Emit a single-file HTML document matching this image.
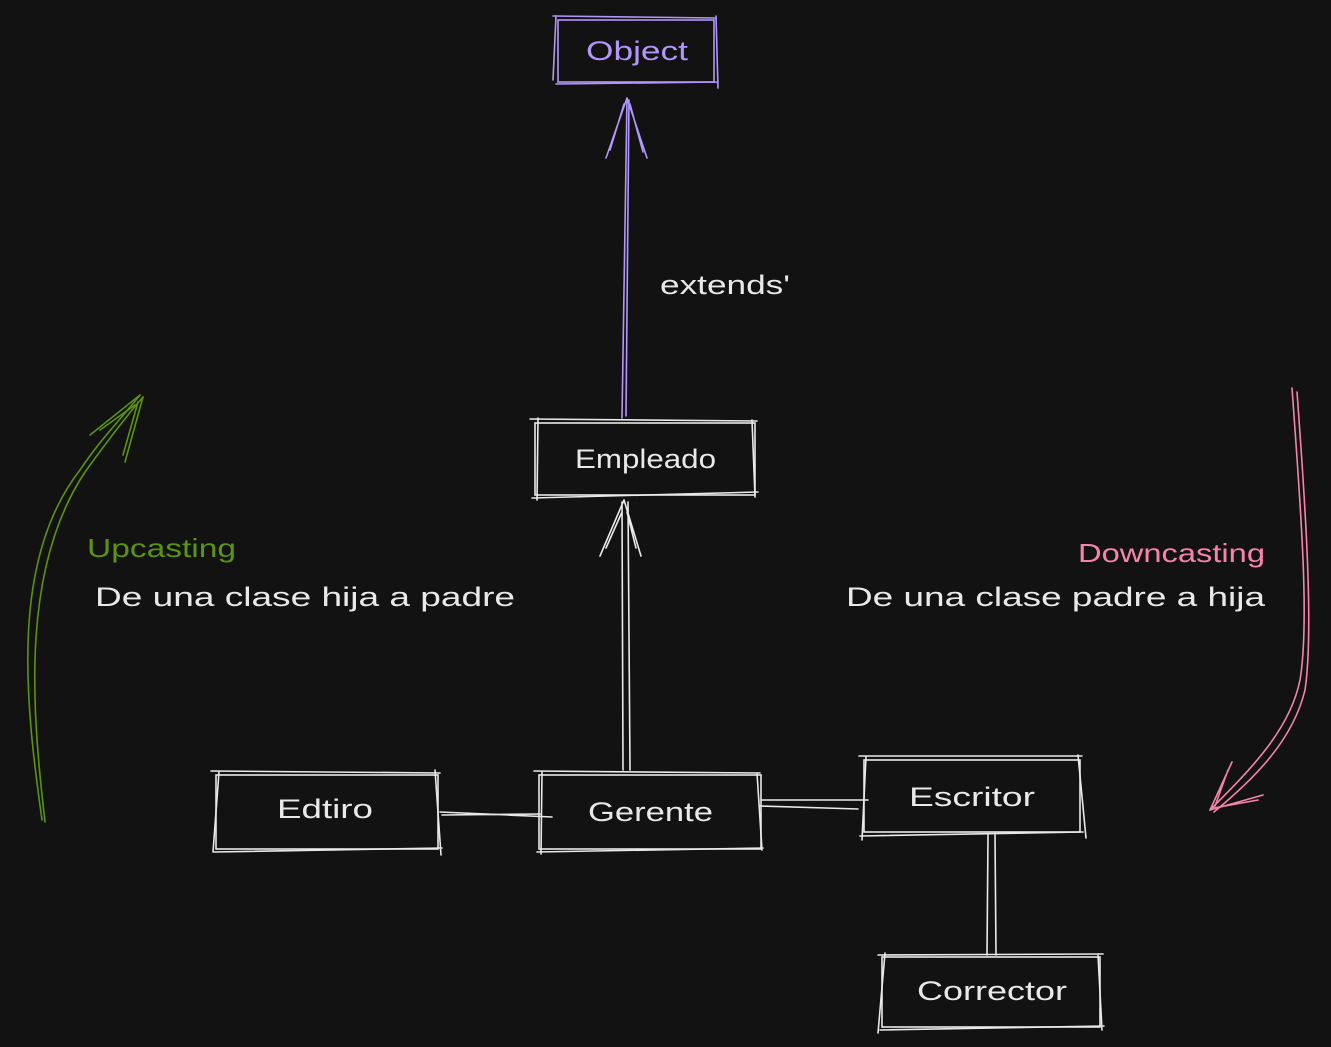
<!DOCTYPE html>
<html><head><meta charset="utf-8"><style>
html,body{margin:0;padding:0;background:#121212;}
svg{display:block}
text{font-family:"Liberation Sans",sans-serif;font-size:27px;fill:#e9e9e9}
</style></head><body>
<svg width="1331" height="1047" viewBox="0 0 1331 1047" xmlns="http://www.w3.org/2000/svg">
<rect width="1331" height="1047" fill="#121212"/>
<g fill="none" stroke-width="1.6" stroke-linecap="round">
<g stroke="#b197fc">
<rect x="558" y="20" width="156" height="62"/>
<path d="M553 16 L716 18 M556 84 L718 82 M556 16 L553 80 M716 16 L718 88"/>
<path d="M622 418 L627 98 M626 416 L629 100 M627 98 L606 158 M627 98 L647 158 M624 104 L610 150 M630 104 L643 152"/>
</g>
<g stroke="#e9e9e9">
<rect x="535" y="423" width="220" height="72"/>
<path d="M530 419 L757 421 M532 498 L758 492 M538 418 L537 500 M752 420 L755 497"/>
<path d="M623 770 L622 502 M630 770 L628 502 M624 500 L600 556 M624 500 L641 556 M622 512 L606 548 M627 512 L636 548"/>
<rect x="539" y="775" width="222" height="74"/>
<path d="M534 771 L760 773 M537 852 L763 848 M542 772 L541 854 M757 773 L762 850"/>
<rect x="216" y="775" width="222" height="74"/>
<path d="M211 771 L440 773 M214 852 L442 848 M219 772 L213 852 M435 770 L441 855"/>
<path d="M440 812 L552 817 M442 815 L540 814"/>
<path d="M762 800 L868 800 M760 806 L858 809"/>
<rect x="864" y="760" width="216" height="72"/>
<path d="M859 756 L1082 756 M860 836 L1083 832 M866 757 L862 840 M1078 755 L1086 838"/>
<path d="M988 835 L987 955 M995 835 L996 955"/>
<rect x="882" y="957" width="218" height="70"/>
<path d="M878 955 L1103 954 M880 1030 L1104 1026 M885 953 L878 1033 M1098 955 L1102 1030"/>
</g>
<g stroke="#5c940d">
<path d="M42 820 C25 700 10 560 80 470 C100 440 120 420 140 395"/>
<path d="M45 822 C32 710 20 570 85 472 C108 440 125 418 143 397"/>
<path d="M140 395 L90 435 M143 397 L125 462 M135 405 L100 430 M138 402 L123 455"/>
</g>
<g stroke="#f783ac">
<path d="M1292 388 C1300 500 1310 620 1300 680 C1290 730 1250 770 1210 810"/>
<path d="M1297 392 C1305 500 1314 630 1305 690 C1293 740 1255 778 1214 812"/>
<path d="M1210 810 L1232 762 M1210 810 L1263 795 M1215 806 L1228 770 M1214 808 L1258 800"/>
</g>
</g>
<g>
<text x="586" y="60" textLength="102" lengthAdjust="spacingAndGlyphs" style="fill:#b197fc">Object</text>
<text x="660" y="294" textLength="130" lengthAdjust="spacingAndGlyphs">extends'</text>
<text x="575" y="468" textLength="141" lengthAdjust="spacingAndGlyphs">Empleado</text>
<text x="588" y="821" textLength="125" lengthAdjust="spacingAndGlyphs">Gerente</text>
<text x="277" y="818" textLength="96" lengthAdjust="spacingAndGlyphs">Edtiro</text>
<text x="909" y="806" textLength="126" lengthAdjust="spacingAndGlyphs">Escritor</text>
<text x="917" y="1000" textLength="150" lengthAdjust="spacingAndGlyphs">Corrector</text>
<text x="87" y="557" textLength="149" lengthAdjust="spacingAndGlyphs" style="fill:#5c940d;font-size:26px">Upcasting</text>
<text x="95" y="606" textLength="420" lengthAdjust="spacingAndGlyphs">De una clase hija a padre</text>
<text x="1078" y="562" textLength="187" lengthAdjust="spacingAndGlyphs" style="fill:#f783ac;font-size:26px">Downcasting</text>
<text x="846" y="606" textLength="419" lengthAdjust="spacingAndGlyphs">De una clase padre a hija</text>
</g>
</svg>
</body></html>
